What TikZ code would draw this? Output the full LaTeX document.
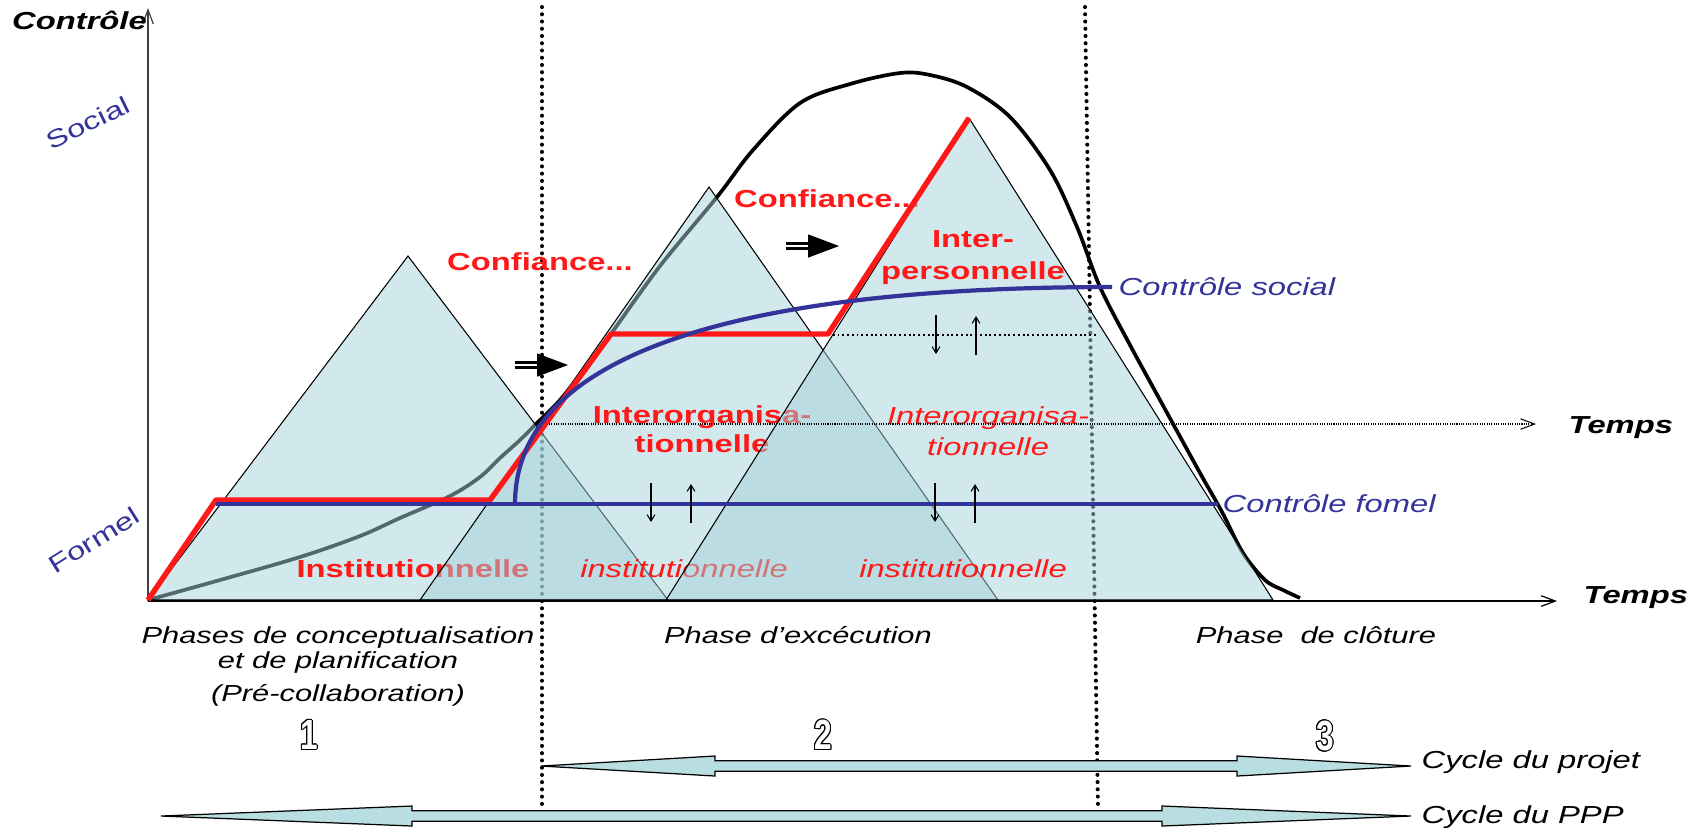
\documentclass[tikz,border=0pt]{standalone}
\usepackage{fontspec}
\setmainfont{Liberation Sans}[FakeStretch=1.33]
\newfontfamily\digitfont{Liberation Sans}[FakeStretch=0.75]
\usepackage{tikz}
\usetikzlibrary{arrows.meta}
\definecolor{ctrlblue}{RGB}{51,51,153}
\definecolor{trifill}{RGB}{163,209,217}
\definecolor{cycfill}{RGB}{184,222,226}
\definecolor{conred}{RGB}{255,24,24}

\begin{document}
\begin{tikzpicture}[
  x=0.01cm, y=-0.01cm,
  font=\fontsize{7}{8}\selectfont,
  tri/.style={draw=black, line width=0.3pt, fill=trifill, fill opacity=0.5},
  redb/.style={text=conred, font=\fontsize{7}{8.25}\selectfont\bfseries, align=center, inner sep=0pt},
  redi/.style={text=conred, font=\fontsize{7}{8.8}\selectfont\itshape, align=center, inner sep=0pt},
  ctrl/.style={text=ctrlblue, font=\fontsize{7}{8}\selectfont\itshape, anchor=west, inner sep=0pt},
  axlbl/.style={font=\fontsize{7}{8}\selectfont\bfseries\itshape, inner sep=0pt, anchor=base west},
  phase/.style={font=\fontsize{6.6}{7}\selectfont\itshape, align=center, inner sep=0pt},
  cyc/.style={font=\fontsize{7}{8}\selectfont\itshape, anchor=base west, inner sep=0pt},
  numlbl/.style={font=\digitfont\fontsize{12}{12}\selectfont\bfseries, inner sep=0pt},
  vdots/.style={line width=1.15pt, line cap=round, dash pattern=on 0.01pt off 2.05pt},
  hdots/.style={line width=0.3pt, dash pattern=on 0.3pt off 0.36pt},
  ar/.style={line width=0.3pt, -{Straight Barb[length=1.8pt,width=2.2pt]}},
  axar/.style={line width=0.35pt, -{Straight Barb[length=4pt,width=3pt]}},
  cycar/.style={draw=black, line width=0.35pt, fill=cycfill},
]
\tikzset{
  fatarrow/.pic={\fill (0,-4.3) rectangle (24,-1.2); \fill (0,1.2) rectangle (24,4.3); \fill (22,-11.7) -- (53,0) -- (22,11.7) -- cycle;},
}
\useasboundingbox (0,0) rectangle (1701,835);
% ---- phase separators (behind the triangles) ----
\draw[vdots] (542,7) -- (542,810);
\draw[vdots] (1085,7) -- (1098,810);
% ---- control curve ----
\draw[line width=1.05pt] plot[smooth, tension=0.55] coordinates {(148,600) (220,580) (300,557) (360,536) (400,518) (450,496) (480,477) (500,458) (520,440) (537,423) (560,400) (590,362) (613,331) (660,266) (717,197) (753,150) (800,103) (850,84) (900,73) (930,75) (967,87) (1010,117) (1050,170) (1077,227) (1100,287) (1130,345) (1160,400) (1200,473) (1222,512) (1243,553) (1265,580) (1283,590) (1300,598)};
% ---- triangles of trust ----
\draw[tri] (148,600) -- (408,256) -- (668,600) -- cycle;
\node[redb] (instA) at (413,569) {Institutionnelle};
\draw[tri] (420,600) -- (709,187) -- (998,600) -- cycle;
\node[redi] (instB) at (684,569) {institutionnelle};
\node[redb, anchor=north] (orgB) at (702,405) {Interorganisa-\\tionnelle};
\node[redb] (conf2) at (827,199) {Confiance...};
\draw[tri] (666,600) -- (969,118) -- (1273,600) -- cycle;
\node[redi] (instC) at (963,569) {institutionnelle};
\node[redi, anchor=north] (orgC) at (988,406) {Interorganisa-\\tionnelle};
\node[redb, anchor=north, font=\fontsize{7}{9.1}\selectfont\bfseries] (pers) at (973,229.5) {Inter-\\personnelle};
\node[redb] (conf1) at (540,262) {Confiance...};
% ---- axes ----
\draw[axar, black!75] (148,601) -- (148,8);
\draw[axar] (148,601) -- (1557,601);
\draw[axar, hdots] (542,424) -- (1536,424);
\draw[line width=0.55pt, dash pattern=on 0.55pt off 0.8pt] (828,335) -- (1096,335);
\node[axlbl] (yl) at (11.5,29.3) {Contrôle};
\node[axlbl] (tps1) at (1568,433) {Temps};
\node[axlbl] (tps2) at (1583,603) {Temps};
\node[text=ctrlblue, rotate=26, inner sep=0pt] (soc) at (88,123) {Social};
\node[text=ctrlblue, rotate=32, inner sep=0pt] (form) at (94,540) {Formel};
% ---- trust path and controls ----
\draw[conred, line width=1.55pt, line join=round] (148,600) -- (216,500) -- (490,500) -- (611,334) -- (828,334) -- (969,118);
\draw[ctrlblue, line width=1.2pt] (216,504) -- (1218,504);
\draw[ctrlblue, line width=1.2pt] (515,504) .. controls (515,340) and (780,287) .. (1112,287);
\node[ctrl] (lsoc) at (1118,287) {Contrôle social};
\node[ctrl] (lfor) at (1222,504) {Contrôle fomel};
\pic at (515,365) {fatarrow};
\pic at (786,246) {fatarrow};
% small up/down arrows
\foreach \xd/\yt in {651/483, 935/483, 936/315}{
  \draw[ar] (\xd,\yt) -- (\xd,\yt+39);
  \draw[ar] (\xd+40,\yt+40) -- (\xd+40,\yt+1);
}
% ---- phases ----
\node[phase, anchor=north] (ph1) at (338,626) {Phases de conceptualisation\\et de planification\\[2.4pt](Pré-collaboration)};
\node[phase, anchor=base] (ph2) at (798,643) {Phase d’excécution};
\node[phase, anchor=base] (ph3) at (1316,643) {Phase\ \ de clôture};
\foreach \n/\px/\py in {1/309/735, 2/823/735, 3/1325/736}{
  \foreach \a in {0,22.5,...,337.5}
    \node[numlbl, text=black] at ([shift={(\a:0.3pt)}]\px,\py) {\n};
  \node[numlbl, text=white] (num\n) at (\px,\py) {\n};
}
% ---- cycles ----
\foreach \yy/\xl/\xa/\xb/\xr in {766/541/715/1237/1411, 816/161/412/1162/1411}{
  \draw[cycar] (\xl,\yy) -- (\xa,\yy-10) -- (\xa,\yy-5.2) -- (\xb,\yy-5.2) -- (\xb,\yy-10) -- (\xr,\yy) -- (\xb,\yy+10) -- (\xb,\yy+5.2) -- (\xa,\yy+5.2) -- (\xa,\yy+10) -- cycle;
}
\node[cyc] (cproj) at (1421,768) {Cycle du projet};
\node[cyc] (cppp) at (1421,823) {Cycle du PPP};
\end{tikzpicture}
\end{document}
